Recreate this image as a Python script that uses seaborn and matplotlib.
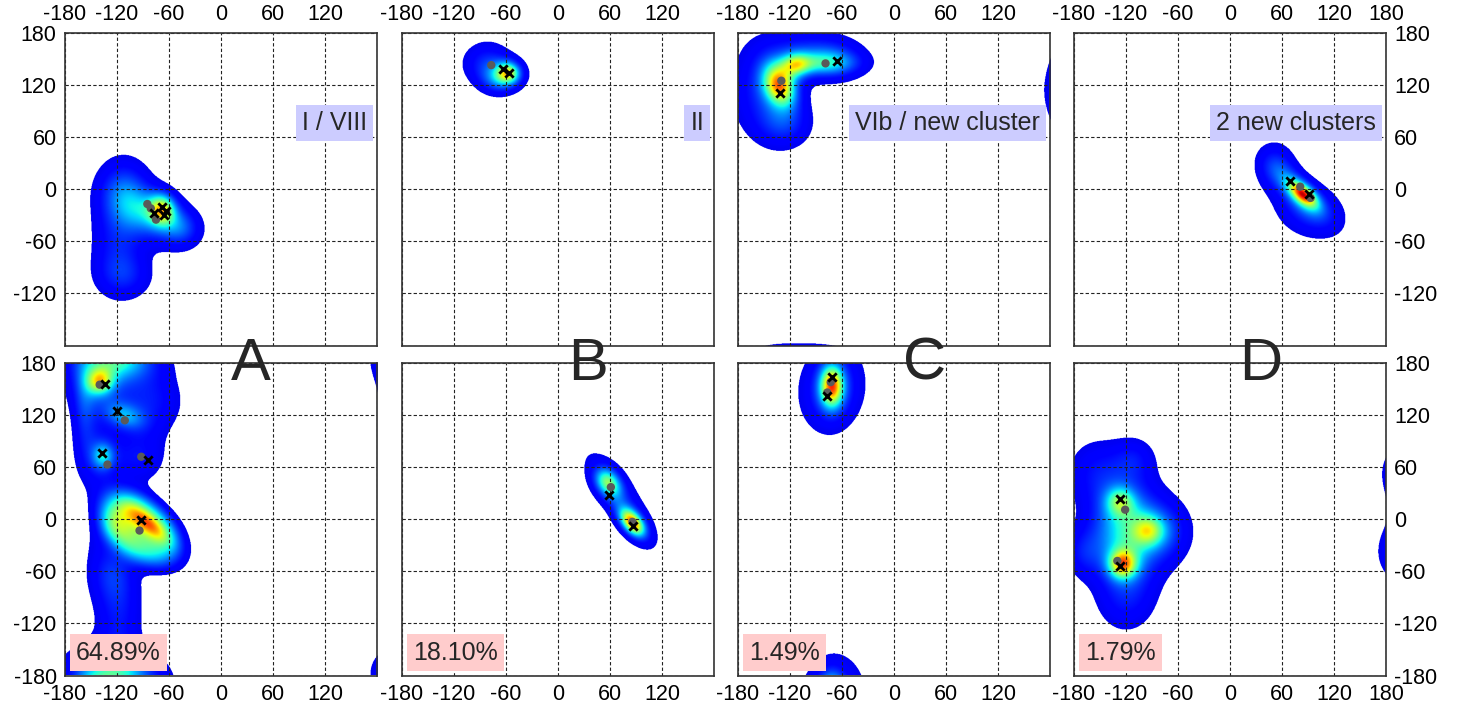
import numpy as np
import matplotlib
matplotlib.use("Agg")
import matplotlib.pyplot as plt
import seaborn as sns
import pandas as pd

sns.set_theme(style="white")
plt.rcParams["font.family"] = ["Liberation Sans", "DejaVu Sans"]

# ---------------------------------------------------------------- data
ticks = [-180, -120, -60, 0, 60, 120, 180]
panel_letters = ["A", "B", "C", "D"]
cluster_names = ["I / VIII", "II", "VIb / new cluster", "2 new clusters"]
populations = ["64.89%", "18.10%", "1.49%", "1.79%"]

# density components: (phi, psi, sigma_a, sigma_b, angle_deg, height[, shape])
a_top_blobs = [(-112, 8, 22, 24, 0, 0.22), (-120, -55, 36, 22, 90, 0.22),
               (-112, -100, 24, 20, 0, 0.2), (-45, -45, 16, 16, 0, 0.2),
               (-82, -28, 32, 20, -25, 0.4), (-68, -22, 11, 13, 0, 0.45)]
a_bot_blobs = [(-140, 160, 28, 28, 0, 0.25), (-158, 125, 10, 35, 0, 0.2),
               (-80, 135, 26, 28, 0, 0.22), (-110, 180, 30, 15, 0, 0.2),
               (-140, 157, 11, 11, 0, 0.42), (-112, 118, 18, 11, -20, 0.3),
               (-142, 70, 18, 30, 0, 0.22), (-95, 70, 22, 22, 0, 0.2),
               (-136, 72, 9, 11, 0, 0.28), (-92, -12, 48, 30, -40, 0.6, 4),
               (-125, -5, 16, 24, -40, 0.15), (-84, -6, 20, 8, -40, 0.28),
               (-128, -60, 20, 25, 0, 0.2), (-118, -110, 20, 40, 0, 0.22),
               (-130, -170, 36, 20, 0, 0.22)]
b_top_blobs = [(-85, 148, 20, 17, 20, 0.22), (-60, 132, 18, 15, 0, 0.22),
               (-72, 125, 15, 12, 0, 0.18), (-57, 134, 10, 9, 0, 0.45)]
b_bot_blobs = [(72, 22, 48, 16, -55, 0.22), (86, -5, 14, 8, -50, 0.72),
               (55, 45, 12, 10, -55, 0.2), (60, 38, 14, 10, -55, 0.3)]
c_top_blobs = [(-150, 115, 28, 38, 0, 0.25), (-125, 75, 22, 20, 0, 0.22),
               (-105, 165, 35, 15, 0, 0.15), (-132, 120, 13, 18, 25, 0.65),
               (-113, 143, 12, 10, 0, 0.35), (-70, 148, 28, 18, 0, 0.24),
               (-85, 145, 30, 10, 0, 0.3)]
c_bot_blobs = [(-72, 150, 26, 36, -8, 0.3), (-72, 152, 10, 18, 0, 0.62)]
d_top_blobs = [(52, 28, 17, 20, 0, 0.22), (92, -25, 30, 22, -20, 0.24),
               (80, -2, 28, 12, -45, 0.3), (84, -5, 14, 7, -40, 0.5)]
d_bot_blobs = [(-155, 55, 25, 28, 0, 0.18), (-68, -15, 20, 25, 0, 0.18),
               (-120, -95, 25, 28, 0, 0.18), (-170, -40, 15, 20, 0, 0.16),
               (-110, 70, 18, 18, 0, 0.16), (-118, -15, 30, 40, 0, 0.55),
               (-124, -53, 12, 12, 0, 0.5), (-127, 20, 12, 12, 0, 0.3),
               (-93, -14, 13, 13, 0, 0.3)]

# representative conformations: crosses and dots (phi, psi)
a_top_cross = [(-77, -27), (-68, -20), (-63, -25), (-66, -30)]
a_top_dots = [(-85, -17), (-81, -22), (-75, -35)]
a_bot_cross = [(-134, 156), (-120, 125), (-137, 76), (-84, 68), (-92, -1)]
a_bot_dots = [(-140, 155), (-111, 114), (-131, 63), (-92, 72), (-94, -13)]
b_top_cross = [(-63, 139), (-57, 134)]
b_top_dots = [(-77, 143)]
b_bot_cross = [(59, 28), (87, -8)]
b_bot_dots = [(61, 37), (86, -3)]
c_top_cross = [(-132, 111), (-66, 148)]
c_top_dots = [(-130, 125), (-79, 145)]
c_bot_cross = [(-71, 164), (-77, 142)]
c_bot_dots = [(-73, 158), (-77, 146)]
d_top_cross = [(69, 9), (91, -5)]
d_top_dots = [(81, 3), (93, -10)]
d_bot_cross = [(-127, 23), (-127, -54)]
d_bot_dots = [(-121, 11), (-130, -48)]

blobs = [[a_top_blobs, b_top_blobs, c_top_blobs, d_top_blobs],
         [a_bot_blobs, b_bot_blobs, c_bot_blobs, d_bot_blobs]]
crosses = [[a_top_cross, b_top_cross, c_top_cross, d_top_cross],
           [a_bot_cross, b_bot_cross, c_bot_cross, d_bot_cross]]
dots = [[a_top_dots, b_top_dots, c_top_dots, d_top_dots],
        [a_bot_dots, b_bot_dots, c_bot_dots, d_bot_dots]]

# ---------------------------------------------------------------- helpers
step = 0.5
grid = np.arange(-180, 180 + step / 2, step)
PHI, PSI = np.meshgrid(grid, grid)
extent = [-180 - step / 2, 180 + step / 2, -180 - step / 2, 180 + step / 2]
threshold = 0.1
gamma = 1.6

cmap = plt.get_cmap("jet").copy()
cmap.set_bad((1, 1, 1, 0))
cmap.set_over(cmap(1.0))


def wrap(a):
    return (a + 180.0) % 360.0 - 180.0


def density(components):
    d = np.zeros_like(PHI)
    for comp in components:
        mx, my, sa, sb, ang, h = comp[:6]
        p = comp[6] if len(comp) > 6 else 2
        dx = wrap(PHI - mx)
        dy = wrap(PSI - my)
        t = np.radians(ang)
        u = dx * np.cos(t) + dy * np.sin(t)
        v = -dx * np.sin(t) + dy * np.cos(t)
        q2 = (u / sa) ** 2 + (v / sb) ** 2
        d += h * np.exp(-0.5 * q2 ** (p / 2))
    return d


def colour_index(d):
    # low densities stay blue, upper range spreads over the warm colours
    x = np.clip((d - threshold) / (1 - threshold), 0, None)
    c = threshold + (1 - threshold) * x ** gamma
    return np.ma.masked_where(d < threshold, c)


# ---------------------------------------------------------------- figure
W, H = 1459, 706
fig = plt.figure(figsize=(W / 100, H / 100), dpi=100)
lefts = [65, 402, 738, 1074]
tops = [33, 363]
size_w, size_h = 312, 312.5
label_fs = 15.5

for r in range(2):
    for c in range(4):
        ax = fig.add_axes([lefts[c] / W, 1 - (tops[r] + size_h) / H,
                           size_w / W, size_h / H])
        img = colour_index(density(blobs[r][c]))
        ax.imshow(img, extent=extent, origin="lower", cmap=cmap, vmin=0,
                  vmax=1, aspect="auto", interpolation="antialiased",
                  zorder=0)

        dot_df = pd.DataFrame(dots[r][c], columns=["phi", "psi"])
        cross_df = pd.DataFrame(crosses[r][c], columns=["phi", "psi"])
        sns.scatterplot(data=dot_df, x="phi", y="psi", ax=ax, color="#5a5a5a",
                        s=36, edgecolor="none", zorder=5, legend=False)
        sns.scatterplot(data=cross_df, x="phi", y="psi", ax=ax, marker="x",
                        color="black", s=36, linewidth=2.0, zorder=6,
                        legend=False)

        ax.set_xlim(-180, 180)
        ax.set_ylim(-180, 180)
        ax.set_xlabel("")
        ax.set_ylabel("")
        ax.set_xticks(ticks)
        ax.set_yticks(ticks)
        ax.grid(True, color="#222222", linestyle=(0, (3, 2)), linewidth=0.8)
        ax.set_axisbelow(False)
        for sp in ax.spines.values():
            sp.set_color("#333333")
            sp.set_linewidth(1.2)
            sp.set_zorder(10)

        xl = [str(t) for t in ticks]
        if c < 3:
            xl[-1] = ""
        yl = [str(t) for t in ticks]
        if r == 0:
            yl[0] = ""
        ax.set_xticklabels(xl)
        ax.set_yticklabels(yl)
        ax.tick_params(axis="both", length=0, labelsize=label_fs, pad=6,
                       colors="black")
        ax.tick_params(axis="x", labeltop=(r == 0), labelbottom=(r == 1),
                       top=False, bottom=False)
        ax.tick_params(axis="y", labelleft=(c == 0), labelright=(c == 3),
                       left=False, right=False)

        if r == 0:
            ax.text(0.968, 0.712, cluster_names[c], transform=ax.transAxes,
                    ha="right", va="center", fontsize=18, zorder=12,
                    bbox=dict(boxstyle="square,pad=0.25", fc="#ccccff",
                              ec="none"))
        else:
            ax.text(0.035, 0.035, populations[c], transform=ax.transAxes,
                    ha="left", va="bottom", fontsize=18, zorder=12,
                    bbox=dict(boxstyle="square,pad=0.25", fc="#ffcccc",
                              ec="none"))

for c in range(4):
    fig.text((lefts[c] + 0.597 * size_w) / W, 1 - 380 / H, panel_letters[c],
             ha="center", va="baseline", fontsize=43, zorder=20)

fig.savefig("out.png", dpi=100)
